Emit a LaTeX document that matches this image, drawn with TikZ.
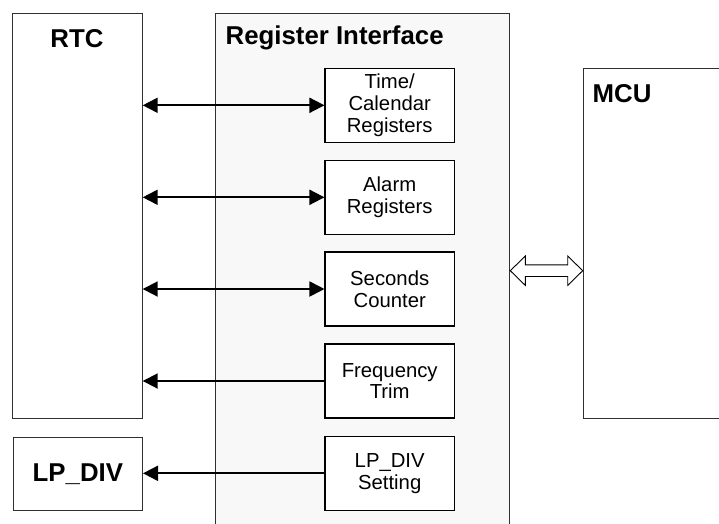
\documentclass[tikz,border=0pt]{standalone}
\usepackage{fontspec}
\setmainfont{Liberation Sans}
\usetikzlibrary{arrows.meta,calc}
\definecolor{regfill}{HTML}{F8F8F8}
\definecolor{edge}{HTML}{303030}
\begin{document}
\begin{tikzpicture}[x=1pt,y=-1pt,
  outerbox/.style={draw=edge,line width=1pt,inner sep=0pt,anchor=north west},
  regbox/.style={draw=black,fill=white,line width=1.2pt,minimum width=129.3pt,minimum height=74pt,inner sep=0pt,align=center,font=\fontsize{20.3}{21.8}\selectfont},
  title/.style={font=\fontsize{25.8}{28}\selectfont\bfseries,inner sep=0pt},
  sig/.style={line width=1.9pt}]
\useasboundingbox (0,0) rectangle (719,523);
\clip (0,0) rectangle (719,523);
\fill[white] (0,0) rectangle (719,523);
% containers
\node[outerbox,fill=regfill,minimum width=294.3pt,minimum height=530pt] (regif) at (215,13) {};
\node[outerbox,minimum width=129.3pt,minimum height=404.4pt] (rtc) at (12.4,13.3) {};
\node[outerbox,minimum width=160pt,minimum height=349.4pt] (mcu) at (582.7,68.3) {};
\node[outerbox,minimum width=129.3pt,minimum height=73.3pt] (lpdiv) at (12.7,436.7) {};
% titles
\node[title] (rtct) at (77,38.2) {RTC};
\node[title,anchor=west] (regt) at (225.5,38.2) {Register Interface};
\node[title,anchor=west] (mcut) at (592.5,93.4) {MCU};
\node[title] (lpdivt) at (lpdiv.center) {LP\_DIV};
% register blocks
\node[regbox] (tc) at (389.7,105.3) {Time/\\Calendar\\Registers};
\node[regbox] (al) at (389.7,197.3) {Alarm\\Registers};
\node[regbox] (sc) at (389.7,289) {Seconds\\Counter};
\node[regbox] (ft) at (389.7,381) {Frequency\\Trim};
\node[regbox] (ls) at (389.7,473.3) {LP\_DIV\\Setting};
% connectors
\draw[sig,{Triangle[length=15pt,width=15pt]}-{Triangle[length=15pt,width=15pt]}] (rtc.east |- tc.west) -- (tc.west);
\draw[sig,{Triangle[length=15pt,width=15pt]}-{Triangle[length=15pt,width=15pt]}] (rtc.east |- al.west) -- (al.west);
\draw[sig,{Triangle[length=15pt,width=15pt]}-{Triangle[length=15pt,width=15pt]}] (rtc.east |- sc.west) -- (sc.west);
\draw[sig,-{Triangle[length=15pt,width=15pt]}] (ft.west) -- (rtc.east |- ft.west);
\draw[sig,-{Triangle[length=15pt,width=15pt]}] (ls.west) -- (lpdiv.east |- ls.west);
% hollow bus arrow between register interface and MCU
\coordinate (busl) at (regif.east |- 0,270.7);
\coordinate (busr) at (mcu.west |- 0,270.7);
\draw[line width=0.9pt,fill=white,line join=miter]
  (busl) -- ($(busl)+(15,-14.7)$) -- ($(busl)+(15,-5.8)$) -- ($(busr)+(-15,-5.8)$)
  -- ($(busr)+(-15,-14.7)$) -- (busr) -- ($(busr)+(-15,14.7)$) -- ($(busr)+(-15,5.8)$)
  -- ($(busl)+(15,5.8)$) -- ($(busl)+(15,14.7)$) -- cycle;
\end{tikzpicture}
\end{document}
